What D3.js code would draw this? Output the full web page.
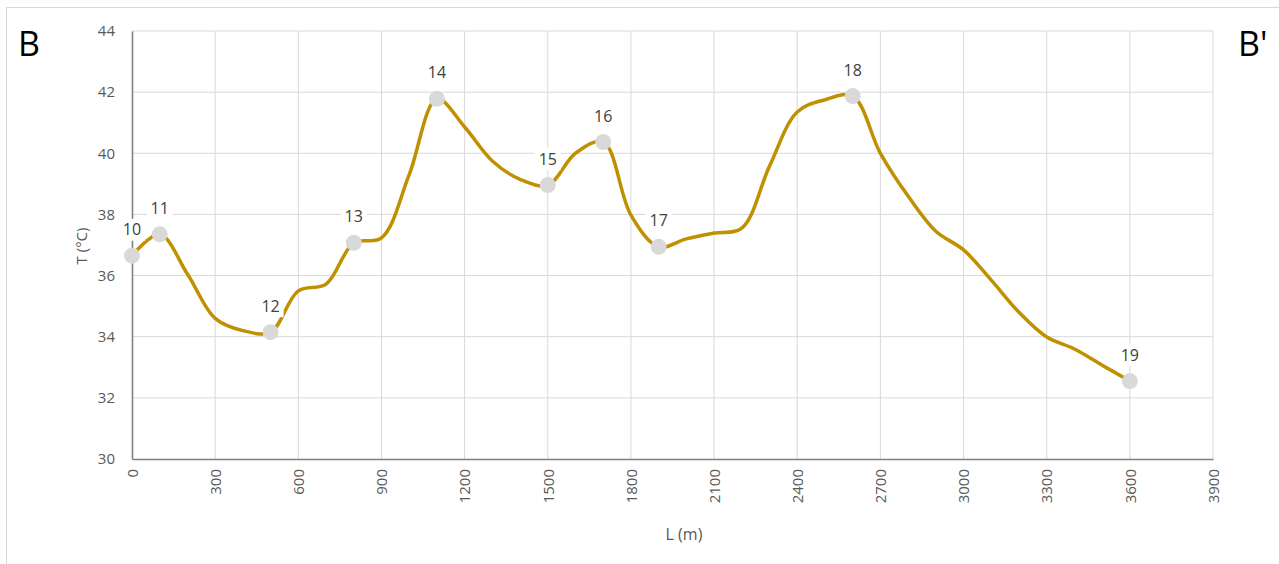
<!DOCTYPE html>
<html><head><meta charset="utf-8">
<script src="https://cdn.jsdelivr.net/npm/d3@7"></script>
<style>body{margin:0;background:#fff;overflow:hidden}svg{display:block}</style>
</head><body>
<svg id="c" width="1279" height="564"></svg>
<script>
// profile (distance L in m, temperature T in °C)
const profileL = [0,100,200,300,400,500,600,700,800,900,1000,1100,1200,1300,1400,1500,1600,1700,1800,1900,2000,2100,2200,2300,2400,2500,2600,2700,2800,2900,3000,3100,3200,3300,3400,3500,3600];
const profileT = [36.65,37.35,36.05,34.6,34.2,34.15,35.5,35.72,37.07,37.23,39.3,41.78,40.86,39.75,39.15,38.96,40.0,40.37,37.98,36.94,37.2,37.39,37.55,39.58,41.35,41.75,41.87,40.0,38.6,37.45,36.84,35.85,34.8,33.99,33.6,33.07,32.55];
// labelled stations
const stationNames = ["10","11","12","13","14","15","16","17","18","19"];
const stationL = [0,100,500,800,1100,1500,1700,1900,2600,3600];
const stationT = [36.65,37.35,34.15,37.07,41.78,38.96,40.37,36.94,41.87,32.55];
const xTicks = d3.range(0,3901,300);
const yTicks = d3.range(30,44.1,2);

const svg = d3.select("#c");
const font = "'Open Sans', 'Liberation Sans', sans-serif";
// outer frame
svg.append("rect").attr("x",6.5).attr("y",7.5).attr("width",1290).attr("height",600)
  .attr("fill","none").attr("stroke","#d9d9d9").attr("stroke-width",1);

const x = d3.scaleLinear().domain([0,3900]).range([132,1213]);
const y = d3.scaleLinear().domain([30,44]).range([459,31]);

// gridlines
svg.append("g").selectAll("line.v").data(xTicks.filter(d=>d>0)).join("line")
  .attr("x1",d=>x(d)).attr("x2",d=>x(d)).attr("y1",y(30)).attr("y2",y(44))
  .attr("stroke","#d9d9d9").attr("stroke-width",1);
svg.append("g").selectAll("line.h").data(yTicks.filter(d=>d>30)).join("line")
  .attr("x1",x(0)).attr("x2",x(3900)).attr("y1",d=>y(d)).attr("y2",d=>y(d))
  .attr("stroke","#d9d9d9").attr("stroke-width",1);

// axes
const ax = svg.append("g").attr("transform",`translate(0,${y(30)})`)
  .call(d3.axisBottom(x).tickValues(xTicks).tickSize(0).tickFormat(d3.format("d")));
ax.select(".domain").attr("stroke","#808080").attr("stroke-width",1.6);
ax.selectAll("text").attr("font-family",font).attr("font-size",15).attr("fill","#595959")
  .attr("text-anchor","end").attr("transform","rotate(-90)").attr("x",-10).attr("y",0).attr("dy","0.35em");
const ay = svg.append("g").attr("transform",`translate(${x(0)},0)`)
  .call(d3.axisLeft(y).tickValues(yTicks).tickSize(0).tickFormat(d3.format("d")));
ay.select(".domain").attr("stroke","#808080").attr("stroke-width",1.6);
ay.selectAll("text").attr("font-family",font).attr("font-size",15).attr("fill","#595959").attr("x",-17);

// axis titles
svg.append("text").attr("x",684).attr("y",540).attr("text-anchor","middle")
  .attr("font-family",font).attr("font-size",16).attr("fill","#595959").text("L (m)");
svg.append("text").attr("transform","translate(87,246) rotate(-90)").attr("text-anchor","middle")
  .attr("font-family",font).attr("font-size",15).attr("fill","#595959").text("T (°C)");

// line
const pts = profileL.map((l,i)=>[l,profileT[i]]);
svg.append("path").datum(pts)
  .attr("d",d3.line().x(d=>x(d[0])).y(d=>y(d[1])).curve(d3.curveCatmullRom.alpha(0.5)))
  .attr("fill","none").attr("stroke","#BF9000").attr("stroke-width",3.5).attr("stroke-linejoin","round");

// station markers
const st = stationL.map((l,i)=>({l,t:stationT[i],n:stationNames[i]}));
svg.append("g").selectAll("circle").data(st).join("circle")
  .attr("cx",d=>x(d.l)).attr("cy",d=>y(d.t)).attr("r",8).attr("fill","#d9d9d9");
const lg = svg.append("g").selectAll("g").data(st).join("g")
  .attr("transform",d=>`translate(${x(d.l)},${y(d.t)-26})`);
lg.append("rect").attr("x",-13).attr("y",-11).attr("width",26).attr("height",22).attr("fill","#fff");
lg.append("text").attr("text-anchor","middle").attr("dy","0.35em")
  .attr("font-family",font).attr("font-size",16).attr("fill","#404040").text(d=>d.n);

// section ends
svg.append("text").attr("x",18).attr("y",56).attr("font-family",font).attr("font-size",34).attr("fill","#000").text("B");
svg.append("text").attr("x",1238).attr("y",56).attr("font-family",font).attr("font-size",34).attr("fill","#000").text("B'");
</script>
</body></html>
